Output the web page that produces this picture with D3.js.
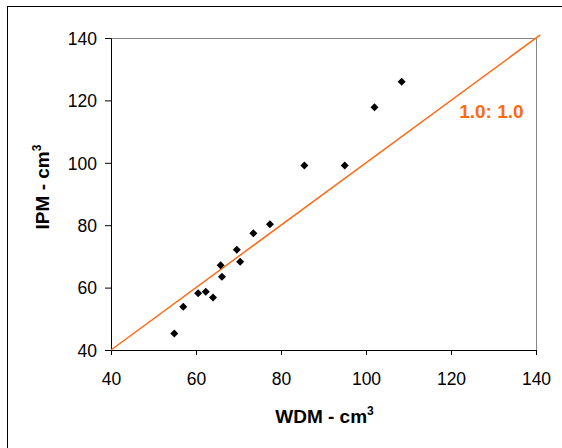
<!DOCTYPE html>
<html><head><meta charset="utf-8">
<script src="https://cdn.jsdelivr.net/npm/d3@7"></script>
<style>body{margin:0;background:#fff}svg{display:block}text{font-family:Arial,"Liberation Sans",sans-serif}</style>
</head><body>
<svg id="c" width="562" height="448"></svg>
<script>
const wdm = [54.9, 57.0, 60.5, 62.3, 64.0, 65.8, 66.1, 69.6, 70.4, 73.5, 77.4, 85.5, 95.0, 102.0, 108.4];
const ipm = [45.3, 53.9, 58.2, 58.7, 56.8, 67.2, 63.5, 72.1, 68.3, 77.4, 80.3, 99.1, 99.1, 117.8, 126.0];
const tickValues = [40, 60, 80, 100, 120, 140];
const lineEnds = [40, 141];
const lineLabel = "1.0: 1.0";

const svg = d3.select("#c");
const L = 111, R = 536, T = 38, B = 350;
const x = d3.scaleLinear().domain([40, 140]).range([L, R]);
const y = d3.scaleLinear().domain([40, 140]).range([B, T]);

// outer chart border
svg.append("rect").attr("x", 7.5).attr("y", 6.5).attr("width", 600).attr("height", 500)
  .attr("fill", "none").attr("stroke", "#000").attr("stroke-width", 1);

// plot area border (grey top & right)
svg.append("path").attr("d", `M${L},${T}.5H${R}.5V${B}`).attr("fill", "none").attr("stroke", "#888").attr("stroke-width", 1);

// axes
const xa = svg.append("g").attr("transform", `translate(0,${B})`)
  .call(d3.axisBottom(x).tickValues(tickValues).tickSize(5).tickPadding(18));
const ya = svg.append("g").attr("transform", `translate(${L},0)`)
  .call(d3.axisLeft(y).tickValues(tickValues).tickSize(6).tickPadding(8));
[xa, ya].forEach(g => {
  g.selectAll("path,line").attr("stroke", "#000");
  g.selectAll("text").attr("font-size", 17.5).attr("fill", "#000").attr("font-family", "Arial, 'Liberation Sans', sans-serif");
});
ya.selectAll("text").attr("dy", "0.36em");

// 1:1 line
svg.append("line").attr("x1", x(lineEnds[0])).attr("y1", y(lineEnds[0]))
  .attr("x2", x(lineEnds[1])).attr("y2", y(lineEnds[1]))
  .attr("stroke", "#FF6A13").attr("stroke-width", 1.5);
svg.append("text").attr("x", x(129.5)).attr("y", y(114.5)).attr("text-anchor", "middle")
  .attr("font-size", 19).attr("font-weight", "bold").attr("fill", "#FF6A13").text(lineLabel);

// points
const sym = d3.symbol().type(d3.symbolSquare).size(32);
svg.append("g").selectAll("path").data(wdm).join("path")
  .attr("d", sym)
  .attr("transform", (d, i) => `translate(${x(d)},${y(ipm[i])}) rotate(45)`)
  .attr("fill", "#000");

// axis titles
const xt = svg.append("text").attr("x", 324.5).attr("y", 423).attr("text-anchor", "middle")
  .attr("font-size", 19).attr("font-weight", "bold");
xt.append("tspan").text("WDM - cm");
xt.append("tspan").attr("font-size", 12).attr("dy", -8).text("3");

const yt = svg.append("text").attr("transform", "translate(49,187) rotate(-90)").attr("text-anchor", "middle")
  .attr("font-size", 19).attr("font-weight", "bold");
yt.append("tspan").text("IPM - cm");
yt.append("tspan").attr("font-size", 12).attr("dy", -8).text("3");
</script>
</body></html>
